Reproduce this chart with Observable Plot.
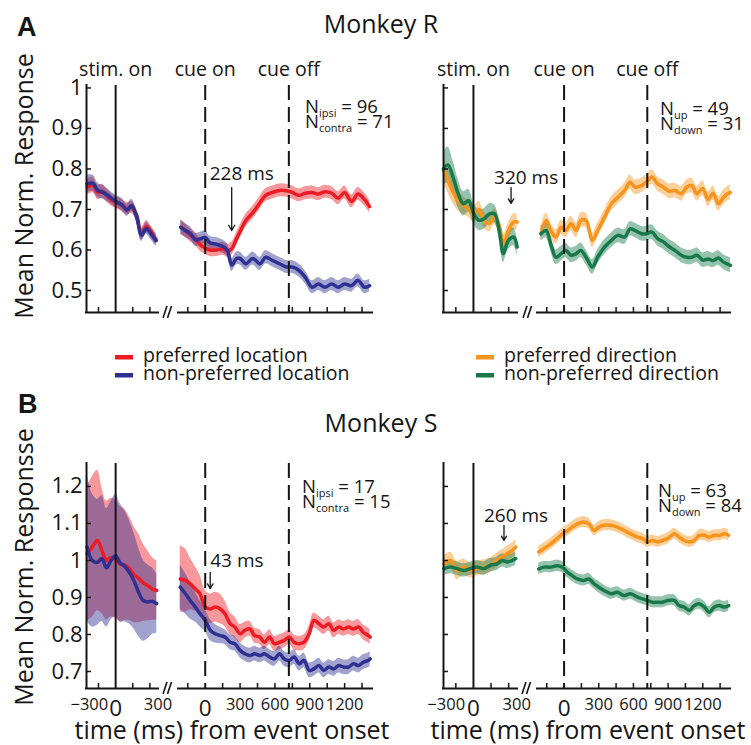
<!DOCTYPE html>
<html><head><meta charset="utf-8">
<script src="https://cdn.jsdelivr.net/npm/d3@7"></script>
<script src="https://cdn.jsdelivr.net/npm/@observablehq/plot@0.6"></script>
<style>
body{margin:0;background:#fff;}
#fig{position:relative;width:751px;height:745px;overflow:hidden;background:#fff;}
</style></head>
<body><div id="fig"></div>
<script>
// ------------------------- DATA -------------------------
const stimTicks = [-150, 150, 300];
const cueTicks = [-150, 150, 300, 450, 600, 750, 900, 1050, 1200, 1350];
const stimTickValues = [-300, 0, 300];
const stimTickLabels = ["−300", "0", "300"];
const cueTickValues = [0, 300, 600, 900, 1200];
const cueTickLabels = ["0", "300", "600", "900", "1200"];
const yTicksR = [0.5, 0.6, 0.7, 0.8, 0.9, 1];
const yTickLabelsR = ["0.5", "0.6", "0.7", "0.8", "0.9", "1"];
const yTicksS = [0.7, 0.8, 0.9, 1, 1.1, 1.2];
const yTickLabelsS = ["0.7", "0.8", "0.9", "1", "1.1", "1.2"];
const stimEvents = [{t: 0, label: "stim. on"}];
const cueEvents = [{t: 0, label: "cue on"}, {t: 720, label: "cue off"}];
const legendLoc = ["preferred location", "non-preferred location"];
const legendDir = ["preferred direction", "non-preferred direction"];
const countsRLoc = [["ipsi", 96], ["contra", 71]];
const countsRDir = [["up", 49], ["down", 31]];
const countsSLoc = [["ipsi", 17], ["contra", 15]];
const countsSDir = [["up", 63], ["down", 84]];
const latencies = {rLoc: 228, rDir: 320, sLoc: 43, sDir: 260};

// Monkey R, location, stim segment
const tRLocStim = [-250,-200,-155,-115,-70,-30,15,55,100,140,185,225,270,310,355];
const rLocPrefStim = [0.755,0.76,0.742,0.745,0.732,0.722,0.716,0.71,0.702,0.705,0.685,0.64,0.658,0.645,0.625];
const rLocPrefStimSe = [0.02,0.019,0.018,0.017,0.016,0.015,0.015,0.015,0.015,0.015,0.015,0.015,0.015,0.015,0.015];
const rLocNonStim = [0.763,0.765,0.747,0.743,0.735,0.726,0.718,0.712,0.698,0.71,0.681,0.636,0.653,0.64,0.623];
const rLocNonStimSe = [0.022,0.02,0.018,0.017,0.016,0.015,0.015,0.015,0.015,0.015,0.015,0.015,0.015,0.015,0.015];
// Monkey R, location, cue segment
const tRLocCue = [-210,-170,-125,-85,-40,0,40,100,155,190,228,270,300,350,410,470,520,580,640,700,750,805,860,920,975,1030,1090,1145,1200,1260,1315,1370,1415];
const rLocPrefCue = [0.656,0.648,0.636,0.628,0.612,0.605,0.600,0.600,0.603,0.598,0.603,0.628,0.645,0.673,0.692,0.716,0.735,0.742,0.747,0.746,0.742,0.735,0.74,0.742,0.738,0.744,0.74,0.728,0.742,0.72,0.738,0.725,0.707];
const rLocPrefCueSe = [0.018,0.017,0.016,0.016,0.016,0.016,0.016,0.016,0.016,0.016,0.016,0.016,0.016,0.016,0.016,0.016,0.016,0.016,0.016,0.016,0.016,0.016,0.016,0.016,0.016,0.016,0.016,0.016,0.016,0.016,0.016,0.016,0.016];
const rLocNonCue = [0.656,0.648,0.64,0.625,0.628,0.631,0.618,0.614,0.608,0.600,0.563,0.579,0.579,0.566,0.579,0.566,0.582,0.574,0.566,0.558,0.558,0.55,0.533,0.508,0.516,0.508,0.516,0.508,0.516,0.512,0.525,0.508,0.512];
const rLocNonCueSe = [0.018,0.017,0.016,0.016,0.016,0.016,0.016,0.016,0.016,0.016,0.016,0.016,0.016,0.016,0.016,0.016,0.016,0.016,0.016,0.016,0.016,0.016,0.016,0.016,0.016,0.016,0.016,0.016,0.016,0.016,0.016,0.016,0.016];
// Monkey R, direction, stim segment
const tRDirStim = [-255,-218,-174,-130,-86,-41,3,47,91,136,180,224,254,298,342,372];
const rDirPrefStim = [0.797,0.772,0.743,0.722,0.71,0.70,0.689,0.70,0.673,0.665,0.682,0.656,0.615,0.648,0.669,0.669];
const rDirPrefStimSe = [0.03,0.03,0.028,0.025,0.022,0.02,0.02,0.02,0.02,0.02,0.02,0.02,0.02,0.02,0.02,0.02];
const rDirNonStim = [0.80,0.81,0.78,0.739,0.714,0.722,0.689,0.673,0.677,0.689,0.689,0.64,0.591,0.624,0.632,0.607];
const rDirNonStimSe = [0.04,0.045,0.04,0.035,0.03,0.028,0.025,0.025,0.025,0.025,0.022,0.022,0.022,0.022,0.022,0.022];
// Monkey R, direction, cue segment
const tRDirCue = [-200,-155,-115,-70,-25,15,60,105,145,190,245,290,350,410,465,525,570,615,670,710,760,810,860,910,960,1015,1060,1105,1150,1200,1245,1290,1335,1380,1415,1440];
const rDirPrefCue = [0.64,0.673,0.648,0.632,0.656,0.648,0.665,0.648,0.673,0.673,0.624,0.648,0.681,0.714,0.73,0.747,0.767,0.755,0.759,0.767,0.78,0.763,0.755,0.745,0.747,0.739,0.755,0.759,0.739,0.752,0.725,0.74,0.714,0.73,0.739,0.742];
const rDirPrefCueSe = [0.018,0.018,0.018,0.018,0.018,0.018,0.018,0.018,0.018,0.018,0.018,0.018,0.018,0.018,0.018,0.018,0.018,0.018,0.018,0.018,0.018,0.018,0.018,0.018,0.018,0.018,0.018,0.018,0.018,0.018,0.018,0.018,0.018,0.018,0.018,0.018];
const rDirNonCue = [0.64,0.648,0.615,0.582,0.591,0.599,0.587,0.591,0.599,0.582,0.558,0.582,0.607,0.624,0.636,0.632,0.652,0.648,0.64,0.64,0.644,0.628,0.62,0.608,0.599,0.587,0.582,0.582,0.587,0.575,0.578,0.574,0.58,0.57,0.565,0.562];
const rDirNonCueSe = [0.018,0.018,0.018,0.018,0.018,0.018,0.018,0.018,0.018,0.018,0.018,0.018,0.018,0.018,0.018,0.018,0.018,0.018,0.018,0.018,0.018,0.018,0.018,0.018,0.018,0.018,0.018,0.018,0.018,0.018,0.018,0.018,0.018,0.018,0.018,0.018];
// Monkey S, location, stim segment
const tSLocStim = [-250,-205,-160,-120,-80,-40,0,40,80,120,160,200,240,280,320,360];
const sLocPrefStim = [1.018,1.036,1.054,1.027,1.0,1.008,1.003,0.99,0.988,0.978,0.962,0.952,0.94,0.932,0.923,0.919];
const sLocPrefStimSe = [0.18,0.19,0.19,0.17,0.16,0.16,0.16,0.155,0.15,0.14,0.13,0.12,0.105,0.095,0.085,0.08];
const sLocNonStim = [1.036,1.0,0.995,1.005,0.98,1.0,1.013,0.993,0.984,0.968,0.945,0.915,0.892,0.888,0.89,0.883];
const sLocNonStimSe = [0.2,0.18,0.17,0.17,0.16,0.16,0.165,0.16,0.15,0.14,0.13,0.12,0.11,0.1,0.09,0.08];
// Monkey S, location, cue segment
const tSLocCue = [-215,-170,-130,-85,-45,0,45,85,130,170,215,255,300,340,385,425,470,510,555,595,640,680,725,765,810,850,895,935,980,1020,1065,1105,1150,1190,1235,1275,1320,1360,1405,1420];
const sLocPrefCue = [0.95,0.946,0.937,0.923,0.91,0.874,0.869,0.874,0.869,0.856,0.829,0.82,0.802,0.811,0.815,0.797,0.793,0.779,0.793,0.775,0.779,0.784,0.793,0.779,0.775,0.779,0.802,0.838,0.829,0.82,0.829,0.811,0.82,0.815,0.82,0.815,0.82,0.806,0.797,0.793];
const sLocPrefCueSe = [0.09,0.085,0.07,0.06,0.05,0.045,0.04,0.04,0.04,0.035,0.03,0.028,0.025,0.022,0.02,0.02,0.02,0.02,0.02,0.02,0.02,0.02,0.02,0.02,0.02,0.02,0.02,0.02,0.02,0.02,0.02,0.02,0.02,0.02,0.02,0.02,0.02,0.02,0.02,0.02];
const sLocNonCue = [0.928,0.91,0.892,0.874,0.856,0.838,0.811,0.802,0.797,0.793,0.779,0.775,0.757,0.748,0.743,0.748,0.743,0.748,0.739,0.734,0.748,0.734,0.73,0.739,0.721,0.73,0.703,0.707,0.716,0.703,0.712,0.707,0.716,0.712,0.712,0.721,0.716,0.725,0.73,0.734];
const sLocNonCueSe = [0.06,0.055,0.05,0.04,0.035,0.03,0.028,0.025,0.022,0.02,0.02,0.02,0.02,0.02,0.02,0.02,0.02,0.02,0.02,0.02,0.02,0.02,0.02,0.02,0.02,0.02,0.02,0.02,0.02,0.02,0.02,0.02,0.02,0.02,0.02,0.02,0.02,0.02,0.02,0.02];
// Monkey S, direction, stim segment
const tSDirStim = [-250,-195,-140,-85,-25,30,90,145,200,245,285,330,360];
const sDirPrefStim = [0.991,1.0,0.973,0.982,0.973,0.978,0.982,0.987,1.0,1.009,1.018,1.027,1.036];
const sDirPrefStimSe = [0.022,0.022,0.025,0.022,0.02,0.02,0.02,0.02,0.02,0.02,0.02,0.02,0.02];
const sDirNonStim = [0.978,0.982,0.978,0.973,0.978,0.982,0.978,0.987,0.991,1.0,0.996,1.0,1.005];
const sDirNonStimSe = [0.018,0.018,0.018,0.018,0.018,0.018,0.018,0.018,0.018,0.018,0.018,0.018,0.018];
// Monkey S, direction, cue segment
const tSDirCue = [-220,-175,-115,-60,-15,30,70,115,170,215,260,300,345,405,460,520,575,635,680,720,765,810,850,895,955,995,1040,1085,1125,1170,1215,1255,1300,1345,1385,1425];
const sDirPrefCue = [1.023,1.032,1.045,1.059,1.072,1.081,1.09,1.099,1.104,1.099,1.081,1.09,1.095,1.095,1.09,1.081,1.072,1.063,1.059,1.05,1.054,1.05,1.054,1.059,1.072,1.063,1.054,1.05,1.054,1.068,1.068,1.063,1.068,1.068,1.072,1.068];
const sDirPrefCueSe = [0.015,0.015,0.015,0.015,0.015,0.015,0.015,0.015,0.015,0.015,0.015,0.015,0.015,0.015,0.015,0.015,0.015,0.015,0.015,0.015,0.015,0.015,0.015,0.015,0.015,0.015,0.015,0.015,0.015,0.015,0.015,0.015,0.015,0.015,0.015,0.015];
const sDirNonCue = [0.977,0.982,0.982,0.986,0.982,0.968,0.959,0.95,0.946,0.95,0.937,0.928,0.919,0.91,0.914,0.905,0.91,0.901,0.896,0.892,0.887,0.887,0.887,0.892,0.892,0.878,0.874,0.865,0.878,0.883,0.874,0.86,0.874,0.878,0.874,0.878];
const sDirNonCueSe = [0.015,0.015,0.015,0.015,0.015,0.015,0.015,0.015,0.015,0.015,0.015,0.015,0.015,0.015,0.015,0.015,0.015,0.015,0.015,0.015,0.015,0.015,0.015,0.015,0.015,0.015,0.015,0.015,0.015,0.015,0.015,0.015,0.015,0.015,0.015,0.015];

// ------------------------- STYLE / LAYOUT -------------------------
const FONT = "'Open Sans', 'DejaVu Sans', sans-serif";
const INK = "#151515";
const C = {
  prefLoc: "#ed1c24", nonLoc: "#2e3192",
  prefDir: "#f7941d", nonDir: "#17794a"
};
const stimDomain = [-255, 375];
const cueDomain = [-230, 1440];
const yDomR = [0.4457, 1.006];
const yDomS = [0.654, 1.262];
const rowA = {top: 85, bottom: 312};
const rowB = {top: 463, bottom: 688};
const colL = {stim: [86, 158], cue: [178, 372]};
const colR = {stim: [443, 517], cue: [537, 730]};

const fig = document.getElementById("fig");

function series(t, m, se, color) {
  return {color, data: t.map((v, i) => ({t: v, m: m[i], lo: m[i] - se[i], hi: m[i] + se[i]}))};
}

function sub(cfg) {
  const ml = 60, mr = 10, mt = 30, mb = 55;
  const [x0, x1] = cfg.cols;
  const w = x1 - x0, h = cfg.row.bottom - cfg.row.top;
  const [xmin, xmax] = cfg.xdom, [ymin, ymax] = cfg.ydom;
  const tx = (xmax - xmin) * 5 / w;   // 5px tick length in x units
  const ty = (ymax - ymin) * 5 / h;   // 5px tick length in y units
  const marks = [];
  for (const s of cfg.series) {
    marks.push(Plot.areaY(s.data, {x: "t", y1: "lo", y2: "hi", fill: s.color, fillOpacity: 0.45, curve: "catmull-rom"}));
  }
  for (const s of cfg.series) {
    marks.push(Plot.line(s.data, {x: "t", y: "m", stroke: s.color, strokeWidth: 3.5, curve: "catmull-rom"}));
  }
  // axes
  marks.push(Plot.ruleY([ymin], {stroke: INK, strokeWidth: 2, strokeLinecap: "square"}));
  marks.push(Plot.ruleX(cfg.xTicks, {x: d => d, y1: ymin, y2: ymin + ty, stroke: INK, strokeWidth: 1.5}));
  if (cfg.yAxis) {
    marks.push(Plot.ruleX([xmin], {stroke: INK, strokeWidth: 2, strokeLinecap: "square"}));
    marks.push(Plot.ruleY(cfg.yTicks, {y: d => d, x1: xmin, x2: xmin + tx, stroke: INK, strokeWidth: 1.5}));
    if (cfg.yLabels) {
      marks.push(Plot.text(cfg.yTicks, {x: xmin, y: d => d, text: (d, i) => cfg.yLabels[i], textAnchor: "end", dx: -4, fontSize: 22, fill: INK}));
    }
  }
  // events
  if (cfg.dashed) {
    marks.push(Plot.ruleX(cfg.events, {x: "t", stroke: INK, strokeWidth: 2, strokeDasharray: "15,7"}));
  } else {
    marks.push(Plot.ruleX(cfg.events, {x: "t", stroke: INK, strokeWidth: 2}));
  }
  if (cfg.eventLabels) {
    marks.push(Plot.text(cfg.events, {x: "t", y: ymax, text: "label", lineAnchor: "bottom", dy: -10, fontSize: 19.5, fill: INK}));
  }
  if (cfg.xLabels) {
    const small = cfg.xLabels.filter(d => d.label !== "0");
    const zero = cfg.xLabels.filter(d => d.label === "0");
    marks.push(Plot.text(small, {x: "v", y: ymin, text: "label", lineAnchor: "bottom", dy: 21, dx: cfg.labelDx || 0, fontSize: 16.5, fill: INK}));
    marks.push(Plot.text(zero, {x: "v", y: ymin, text: "label", lineAnchor: "bottom", dy: 27, fontSize: 22.5, fill: INK}));
  }
  if (cfg.latency) {
    const L = cfg.latency;
    marks.push(Plot.arrow([L.t], {x1: d => d, x2: d => d, y1: L.y1, y2: L.y2, stroke: INK, strokeWidth: 1.3, headLength: 7}));
    marks.push(Plot.text([L.t], {x: d => d, y: L.yt, text: d => `${d} ms`, textAnchor: "start", dx: L.dx, lineAnchor: "bottom", fontSize: 19, fill: INK}));
  }
  const svg = Plot.plot({
    width: w + ml + mr, height: h + mt + mb,
    marginLeft: ml, marginRight: mr, marginTop: mt, marginBottom: mb,
    x: {domain: cfg.xdom, axis: null},
    y: {domain: cfg.ydom, axis: null},
    style: {background: "transparent", overflow: "visible", fontFamily: FONT},
    marks
  });
  svg.style.position = "absolute";
  svg.style.left = (x0 - ml) + "px";
  svg.style.top = (cfg.row.top - mt) + "px";
  svg.style.maxWidth = "none";
  fig.appendChild(svg);
}

const stimLabelData = stimTickValues.map((v, i) => ({v, label: stimTickLabels[i]}));
const cueLabelData = cueTickValues.map((v, i) => ({v, label: cueTickLabels[i]}));

// ---- Row A: Monkey R ----
sub({row: rowA, cols: colL.stim, xdom: stimDomain, ydom: yDomR, yAxis: true, yTicks: yTicksR, yLabels: yTickLabelsR,
  xTicks: stimTicks, events: stimEvents, eventLabels: true,
  series: [series(tRLocStim, rLocPrefStim, rLocPrefStimSe, C.prefLoc), series(tRLocStim, rLocNonStim, rLocNonStimSe, C.nonLoc)]});
sub({row: rowA, cols: colL.cue, xdom: cueDomain, ydom: yDomR, xTicks: cueTicks, events: cueEvents, dashed: true, eventLabels: true,
  latency: {t: latencies.rLoc, y1: 0.754, y2: 0.648, yt: 0.772, dx: -22},
  series: [series(tRLocCue, rLocPrefCue, rLocPrefCueSe, C.prefLoc), series(tRLocCue, rLocNonCue, rLocNonCueSe, C.nonLoc)]});
sub({row: rowA, cols: colR.stim, xdom: stimDomain, ydom: yDomR, yAxis: true, yTicks: yTicksR,
  xTicks: stimTicks, events: stimEvents, eventLabels: true,
  latency: {t: latencies.rDir, y1: 0.754, y2: 0.715, yt: 0.764, dx: -17},
  series: [series(tRDirStim, rDirPrefStim, rDirPrefStimSe, C.prefDir), series(tRDirStim, rDirNonStim, rDirNonStimSe, C.nonDir)]});
sub({row: rowA, cols: colR.cue, xdom: cueDomain, ydom: yDomR, xTicks: cueTicks, events: cueEvents, dashed: true, eventLabels: true,
  series: [series(tRDirCue, rDirPrefCue, rDirPrefCueSe, C.prefDir), series(tRDirCue, rDirNonCue, rDirNonCueSe, C.nonDir)]});

// ---- Row B: Monkey S ----
sub({row: rowB, cols: colL.stim, xdom: stimDomain, ydom: yDomS, yAxis: true, yTicks: yTicksS, yLabels: yTickLabelsS,
  xTicks: stimTicks, events: stimEvents, xLabels: stimLabelData, labelDx: 8,
  series: [series(tSLocStim, sLocPrefStim, sLocPrefStimSe, C.prefLoc), series(tSLocStim, sLocNonStim, sLocNonStimSe, C.nonLoc)]});
sub({row: rowB, cols: colL.cue, xdom: cueDomain, ydom: yDomS, xTicks: cueTicks, events: cueEvents, dashed: true, xLabels: cueLabelData,
  latency: {t: latencies.sLoc, y1: 0.968, y2: 0.924, yt: 0.981, dx: 0},
  series: [series(tSLocCue, sLocPrefCue, sLocPrefCueSe, C.prefLoc), series(tSLocCue, sLocNonCue, sLocNonCueSe, C.nonLoc)]});
sub({row: rowB, cols: colR.stim, xdom: stimDomain, ydom: yDomS, yAxis: true, yTicks: yTicksS,
  xTicks: stimTicks, events: stimEvents, xLabels: stimLabelData, labelDx: 8,
  latency: {t: latencies.sDir, y1: 1.095, y2: 1.054, yt: 1.103, dx: -20},
  series: [series(tSDirStim, sDirPrefStim, sDirPrefStimSe, C.prefDir), series(tSDirStim, sDirNonStim, sDirNonStimSe, C.nonDir)]});
sub({row: rowB, cols: colR.cue, xdom: cueDomain, ydom: yDomS, xTicks: cueTicks, events: cueEvents, dashed: true, xLabels: cueLabelData,
  series: [series(tSDirCue, sDirPrefCue, sDirPrefCueSe, C.prefDir), series(tSDirCue, sDirNonCue, sDirNonCueSe, C.nonDir)]});

// ------------------------- OVERLAY TEXT -------------------------
const ov = d3.create("svg").attr("width", 751).attr("height", 745)
  .style("position", "absolute").style("left", "0px").style("top", "0px")
  .style("font-family", FONT).style("fill", INK).style("pointer-events", "none");

function txt(x, y, s, size, opts = {}) {
  const t = ov.append("text").attr("x", x).attr("y", y).attr("font-size", size).text(s);
  if (opts.anchor) t.attr("text-anchor", opts.anchor);
  if (opts.weight) t.attr("font-weight", opts.weight);
  if (opts.family) t.attr("font-family", opts.family);
  if (opts.rotate) t.attr("transform", `rotate(-90 ${x} ${y})`);
  return t;
}
// panel letters and titles
txt(17, 36, "A", 27, {weight: "bold", family: "'Liberation Sans', Arial, sans-serif"});
txt(18, 413, "B", 27, {weight: "bold", family: "'Liberation Sans', Arial, sans-serif"});
txt(381, 33, "Monkey R", 25, {anchor: "middle"});
txt(381, 432, "Monkey S", 25, {anchor: "middle"});
// y titles
txt(33, 186, "Mean Norm. Response", 25, {anchor: "middle", rotate: true});
txt(33, 567, "Mean Norm. Responsse", 25, {anchor: "middle", rotate: true});
// x titles
txt(232, 739, "time (ms) from event onset", 25, {anchor: "middle"});
txt(588, 739, "time (ms) from event onset", 25, {anchor: "middle"});
// legends
function legend(x, y, labels, colors) {
  labels.forEach((lab, i) => {
    ov.append("rect").attr("x", x).attr("y", y + i * 18 - 6.5).attr("width", 18).attr("height", 4.5).attr("fill", colors[i]);
    txt(x + 28, y + i * 18, lab, 19.5);
  });
}
legend(115, 361.5, legendLoc, [C.prefLoc, C.nonLoc]);
legend(476, 361.5, legendDir, [C.prefDir, C.nonDir]);
// counts
function counts(x, y, rows) {
  rows.forEach(([sub, n], i) => {
    const t = ov.append("text").attr("x", x).attr("y", y + i * 15).attr("font-size", 18.5);
    t.append("tspan").text("N");
    t.append("tspan").attr("font-size", 11).attr("dy", 3.5).text(sub);
    t.append("tspan").attr("dy", -3.5).text(` = ${n}`);
  });
}
counts(305, 113, countsRLoc);
counts(660, 115, countsRDir);
counts(302, 493, countsSLoc);
counts(658, 497, countsSDir);
// axis break marks
function brk(cx, cy) {
  for (const k of [0, 1]) {
    ov.append("line").attr("x1", cx - 5 + k * 4.5).attr("y1", cy + 6).attr("x2", cx - 1 + k * 4.5).attr("y2", cy - 6)
      .attr("stroke", INK).attr("stroke-width", 1.6);
  }
}
brk(168, 312); brk(528, 312); brk(168, 688); brk(527, 688);

fig.appendChild(ov.node());
</script>
</body></html>
